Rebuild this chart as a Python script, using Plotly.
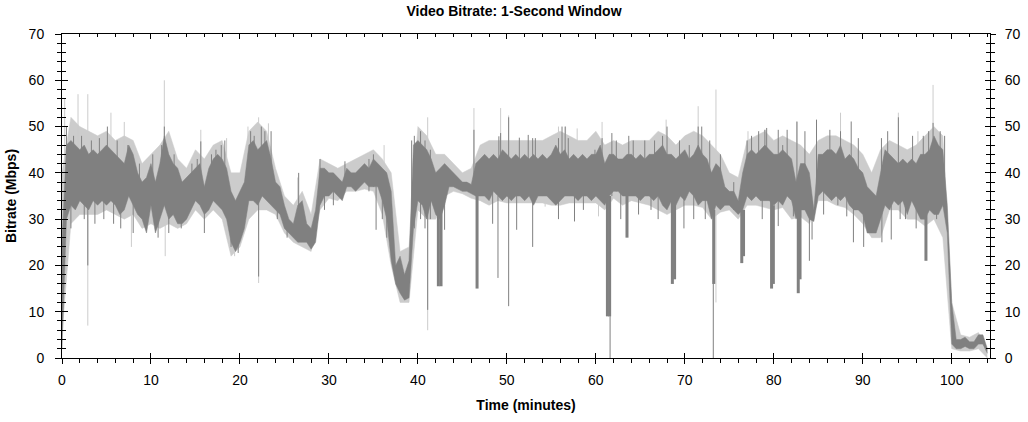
import numpy as np
import plotly.graph_objects as go

# ---------------- data ----------------
# dark (main) series envelope, sampled every 0.5 minute from 0 to 104
dark_hi = [
    25, 46, 47, 46, 45, 46, 44, 45, 44, 45,
    46, 45, 44, 43, 42, 46, 44, 40, 38, 39,
    42, 38, 42, 48, 44, 42, 41, 38, 39, 40,
    41, 42, 37, 41, 43, 44, 43, 41, 36, 34,
    36, 38, 46, 47, 45, 46, 47, 43, 38, 37,
    33, 30, 29, 33, 34, 29, 28, 32, 41, 41,
    40, 40, 39, 38, 41, 40, 40, 41, 42, 41,
    43, 42, 41, 40, 36, 20, 22, 18, 21, 46,
    47, 46, 45, 43, 40, 41, 42, 41, 40, 39,
    38, 38, 37.5, 42, 43, 44, 43, 44, 43, 45,
    44, 43, 44, 43, 44, 43, 44, 43, 44, 43,
    44, 46, 44, 45, 43, 44, 43, 44, 43, 44,
    44, 46, 42, 44, 44, 43, 43, 44, 44, 43,
    44, 43, 44, 44, 45, 46, 44, 44, 43, 44,
    45, 43, 44, 46, 44, 43, 40, 42, 41, 37,
    36, 36, 34, 40, 44, 45, 44, 45, 46, 45,
    44, 44, 45, 44, 43, 38, 42, 42, 40, 32,
    44, 44, 45, 45, 44, 46, 43, 44, 43, 41,
    40, 37, 36, 35, 40, 45, 44, 43, 42, 43,
    42, 43, 42, 44, 44, 45, 48, 46, 45, 33,
    12, 4, 4, 4.5, 3.5, 3.5, 5, 5, 2,
]
dark_lo = [
    2, 30, 33, 32, 34, 33, 32, 34, 33, 34,
    33, 34, 33, 31, 32, 35, 33, 31, 30, 27,
    33, 27, 30, 33, 30, 31, 29, 29, 30, 32,
    34, 33, 31, 32, 34, 33, 32, 30, 25, 23,
    25, 28, 34, 34, 33, 35, 34, 33, 32, 31,
    28, 27, 26, 25, 25, 25, 23.5, 25, 33, 35,
    35, 36, 35, 34, 37, 37, 36, 37, 38, 37,
    37, 37, 34, 30, 21, 16, 14, 12.5, 13, 28,
    34, 33, 30, 34, 31, 30, 33, 37, 37, 36.5,
    36, 36, 35.5, 35, 35, 35, 34, 36, 35, 34,
    35, 34, 35, 35, 34, 35, 33, 35, 35, 35,
    34, 33, 34, 35, 35, 35, 34, 35, 35, 34,
    35, 34, 33, 35, 36, 36, 35, 35, 35, 35,
    34, 35, 35, 34, 35, 33, 32, 34, 33, 35,
    34, 36, 35, 33, 34, 34, 30, 33, 32, 33,
    33, 32, 31, 32, 35, 34, 35, 34, 34, 34,
    33, 34, 33, 35, 34, 30, 32, 32, 30, 29.5,
    35, 36, 35, 34, 35, 34, 35, 33, 32, 32,
    31, 27, 27, 27, 30, 33, 32, 34, 33, 34,
    31, 34, 32, 30, 30, 32, 31, 31, 33, 27,
    3, 2, 2, 2.5, 2, 2, 3, 3, 1,
]
# light (peak) series envelope, sampled every minute from 0 to 104
light_hi = [
    40, 52, 50, 49, 48, 49, 47, 48, 47, 42,
    44, 46, 49, 43, 41, 45, 43, 46, 47, 40,
    40, 49, 51, 49, 41, 35, 33, 36, 31, 43,
    42, 41, 42, 43, 44, 45, 43, 40, 23, 24,
    50, 48, 44, 44, 42, 40, 41, 46, 47, 47,
    47, 47, 47, 47, 47, 48, 49, 48, 47, 47,
    49, 46, 47, 46, 47, 47, 47, 49, 48, 46,
    48, 49, 48, 46, 44, 40, 39, 47, 48, 49,
    47, 48, 47, 46, 44, 47, 48, 48, 47, 46,
    44, 40, 45, 47, 46, 45, 46, 48, 50, 48,
    12, 5, 4.5, 5.5, 2,
]
light_lo = [
    5, 29, 31, 31, 31, 32, 31, 30, 31, 28,
    29, 28, 29, 28, 29, 32, 30, 32, 30, 22,
    24, 30, 32, 32, 31, 27, 25, 24, 23, 32,
    34.5, 34, 36, 36, 36.5, 36, 31, 20, 12, 12,
    32, 30, 30, 35, 36, 35.5, 34.5, 34, 33, 34,
    33.5, 33.5, 33.5, 33.5, 33.5, 33, 33, 33.5, 33.5, 33.5,
    33.5, 32, 34.5, 33, 34, 33.5, 33, 32, 31, 32,
    33, 33, 32.5, 30, 31.5, 32, 30, 33, 33, 32.5,
    32, 32.5, 30, 30.5, 29, 34, 34, 33, 32.5, 31,
    29, 26, 26, 32, 32, 30, 30, 28.5, 30, 26,
    2, 1.5, 1.5, 2, 0,
]
# single-second excursions of the light series: (time, low, high)
light_spikes = [
    (0.3, 40, 56), (1.8, 40, 57), (2.9, 7, 57), (5.5, 40, 53), (7.0, 40, 51),
    (7.8, 24, 36), (11.5, 40, 60), (11.6, 22, 32), (15.6, 40, 49.3), (18.5, 38, 47.5),
    (19.4, 22, 30), (20.9, 38, 50), (22.1, 16.2, 52), (23.2, 40, 50.7), (26.5, 30, 39),
    (36.2, 38, 46), (41.1, 6, 52), (46.3, 40, 54), (49.3, 40, 54), (50.2, 40, 52.4),
    (54.3, 32.7, 36), (55.8, 40, 50), (56.6, 40, 50), (57.9, 40, 49.6), (60.3, 30.6, 36),
    (60.7, 40, 51), (67.9, 40, 51.5), (71.5, 40, 54.4), (73.5, 12, 58), (77.1, 40, 49),
    (79.0, 40, 49.3), (82.6, 40, 51), (87.5, 40, 53), (94.0, 40, 53), (96.2, 40, 49),
    (97.9, 40, 59),
]
# single-second excursions of the dark series: (time, low, high)
dark_spikes = [
    (0.5, 36, 50), (1.0, 28, 36), (1.3, 36, 48), (2.2, 36, 48), (2.5, 30, 36),
    (2.9, 20, 36), (3.3, 36, 47), (3.7, 29, 36), (4.2, 36, 47.5), (4.7, 30, 36),
    (5.1, 38, 50), (5.8, 29, 36), (6.2, 36, 47), (6.6, 28, 36), (7.4, 36, 46),
    (8.0, 27, 35), (8.7, 34, 42), (10.2, 36, 44), (10.8, 26, 33), (11.2, 36, 46),
    (11.5, 38, 50), (12.0, 27, 33), (12.6, 36, 44), (13.4, 28, 35), (14.6, 34, 42),
    (15.2, 34, 43), (15.6, 38, 46.8), (16.0, 27, 33), (16.8, 36, 44), (17.3, 36, 45),
    (17.9, 36, 46), (18.3, 36, 47), (19.0, 24, 32), (19.8, 22.7, 30), (21.2, 36, 49),
    (21.6, 36, 48), (22.1, 17.6, 36), (22.4, 36, 50), (22.8, 36, 49), (23.5, 36, 49),
    (24.2, 30, 36), (25.3, 26, 30), (26.6, 30, 40), (29.0, 36, 43), (29.5, 32, 37),
    (30.5, 33, 38), (31.8, 37, 42.5), (34.5, 36, 43), (35.0, 37, 44), (35.3, 27.7, 37),
    (36.0, 30, 38), (36.5, 26, 34), (39.3, 28, 47), (39.6, 28, 48), (40.3, 30, 49),
    (40.8, 28, 47), (41.1, 10.4, 33), (41.4, 30, 45), (43.0, 27.7, 36), (46.3, 38, 49.3),
    (48.4, 29, 36), (49.0, 17.3, 35), (49.1, 35, 47.9), (49.3, 36, 48.6), (50.2, 11.2, 52),
    (51.1, 27.7, 35), (51.4, 36, 47.6), (52.4, 36, 48.2), (52.9, 24, 47.5), (53.2, 36, 47.5),
    (55.8, 30, 47.5), (56.2, 36, 50), (56.55, 36, 50), (56.9, 36, 47.5), (57.6, 29.5, 35),
    (58.6, 32, 36), (59.9, 36, 45), (60.7, 36, 47.5), (61.6, 0, 10), (61.8, 35, 48.6),
    (62.3, 36, 47), (62.8, 30, 36), (63.7, 36, 48), (64.2, 36, 47), (64.8, 31, 36),
    (65.5, 36, 47), (66.2, 32, 36), (66.6, 36, 47), (67.0, 30, 36), (67.5, 36, 48),
    (68.0, 36, 50), (69.4, 36, 47), (69.9, 28, 36), (70.5, 36, 46), (71.0, 30, 36),
    (71.5, 36, 50), (71.9, 38, 50), (72.3, 30, 36), (72.8, 36, 47), (73.2, 0, 33),
    (74.0, 36, 44), (75.5, 32, 38), (77.0, 36, 47), (77.5, 36, 48), (78.3, 36, 49),
    (78.7, 30, 36), (79.0, 36, 49.3), (79.2, 36, 49.7), (80.5, 28.5, 49.3), (81.0, 36, 46),
    (81.5, 36, 49.3), (82.2, 30.6, 36), (82.6, 36, 51.1), (83.5, 36, 49), (84.0, 21, 30),
    (84.3, 25.6, 34), (84.8, 38, 51.5), (85.6, 31, 36), (86.3, 36, 49.3), (87.2, 33, 36),
    (87.5, 36, 49), (88.2, 30.6, 36), (88.7, 36, 51.1), (88.95, 25, 33), (89.5, 36, 47.5),
    (89.9, 31.5, 36), (90.1, 24, 31), (90.4, 29, 35), (92.1, 36, 47.5), (92.15, 25, 33),
    (92.8, 36, 49), (93.2, 25.6, 33), (94.0, 36, 52), (94.2, 30, 36), (94.8, 30, 36),
    (95.6, 36, 48), (96.0, 28, 36), (96.8, 36, 48), (97.4, 36, 49), (97.9, 38, 50.8),
    (98.3, 30, 36), (98.7, 36, 49), (99.2, 36, 48),
]
# short multi-second drops of the dark series: (time, low, high)
dark_dips = [
    (42.3, 15.5, 32), (42.6, 15.5, 32), (46.65, 15, 36), (61.3, 9, 35), (61.55, 9, 35),
    (63.5, 26, 35), (68.6, 16, 34), (68.85, 17, 34), (73.25, 16, 32), (76.4, 20.5, 32),
    (76.6, 22, 32), (79.75, 15, 34), (79.95, 16, 33), (82.75, 14, 32), (82.95, 17, 32),
    (97.1, 21, 31),
]

t_half = np.arange(len(dark_hi)) * 0.5
t_min = np.arange(len(light_hi)) * 1.0

LIGHT = "rgb(204,204,204)"
DARK = "rgb(128,128,128)"
FONT = "Arial, 'Liberation Sans', sans-serif"


def segs(rows):
    xs, ys = [], []
    for a, b, c in rows:
        xs += [a, a, None]
        ys += [b, c, None]
    return xs, ys


fig = go.Figure()
common = dict(mode="lines", hoverinfo="skip", showlegend=False)
fig.add_trace(go.Scatter(x=t_min, y=light_lo, line=dict(width=0.5, color=LIGHT), **common))
fig.add_trace(go.Scatter(x=t_min, y=light_hi, line=dict(width=0.5, color=LIGHT),
                         fill="tonexty", fillcolor=LIGHT, **common))
sx, sy = segs(light_spikes)
fig.add_trace(go.Scatter(x=sx, y=sy, line=dict(width=1, color=LIGHT), **common))
fig.add_trace(go.Scatter(x=t_half, y=dark_lo, line=dict(width=0.5, color=DARK), **common))
fig.add_trace(go.Scatter(x=t_half, y=dark_hi, line=dict(width=0.5, color=DARK),
                         fill="tonexty", fillcolor=DARK, **common))
sx, sy = segs(dark_spikes)
fig.add_trace(go.Scatter(x=sx, y=sy, line=dict(width=1, color=DARK), **common))
sx, sy = segs(dark_dips)
fig.add_trace(go.Scatter(x=sx, y=sy, line=dict(width=3, color=DARK), **common))

# dummy traces so that overlay axes are active
for xa, ya in [("x2", "y"), ("x3", "y"), ("x", "y2"), ("x", "y3"), ("x", "y4")]:
    fig.add_trace(go.Scatter(x=[None], y=[None], xaxis=xa, yaxis=ya, **common))

XR = [0, 104.3]
YR = [0, 70]
tickfont = dict(family=FONT, size=14, color="black")
base = dict(showgrid=False, zeroline=False, automargin=False, tickcolor="black",
            tick0=0, dtick=10)

fig.update_layout(
    width=1028, height=422,
    margin=dict(l=62, r=38, t=34, b=64, autoexpand=False),
    paper_bgcolor="white", plot_bgcolor="white",
    title=dict(text="<b>Video Bitrate: 1-Second Window</b>", x=0.5, xref="container",
               y=1 - 11 / 422, yref="container", yanchor="middle", xanchor="center",
               font=dict(family=FONT, size=14, color="black")),
    xaxis=dict(range=XR, ticks="outside", ticklen=5,
               showline=True, linecolor="black", linewidth=1,
               minor=dict(dtick=2, tick0=0, ticks="outside", ticklen=4, tickcolor="black"),
               tickfont=tickfont, ticklabelstandoff=4,
               title=dict(text="<b>Time (minutes)</b>", standoff=13,
                          font=dict(family=FONT, size=14, color="black")), **base),
    xaxis2=dict(range=XR, overlaying="x", side="bottom", anchor="y",
                ticks="inside", ticklen=5, showticklabels=False, showline=False, **base),
    xaxis3=dict(range=XR, overlaying="x", side="top", anchor="y",
                ticks="inside", ticklen=5, showticklabels=False,
                showline=True, linecolor="black", linewidth=1,
                minor=dict(dtick=2, tick0=0, ticks="inside", ticklen=3, tickcolor="black"),
                **base),
    yaxis=dict(range=YR, ticks="outside", ticklen=6,
               showline=True, linecolor="black", linewidth=1,
               minor=dict(dtick=2, tick0=0, ticks="outside", ticklen=4, tickcolor="black"),
               tickfont=tickfont, ticklabelstandoff=8,
               title=dict(text="<b>Bitrate (Mbps)</b>", standoff=8,
                          font=dict(family=FONT, size=14, color="black")), **base),
    yaxis2=dict(range=YR, overlaying="y", side="left", anchor="x",
                ticks="inside", ticklen=6, showticklabels=False, showline=False,
                minor=dict(dtick=2, tick0=0, ticks="inside", ticklen=4, tickcolor="black"),
                **base),
    yaxis3=dict(range=YR, overlaying="y", side="right", anchor="x",
                ticks="outside", ticklen=5, showticklabels=True,
                tickfont=tickfont, ticklabelstandoff=6,
                showline=True, linecolor="black", linewidth=1,
                minor=dict(dtick=2, tick0=0, ticks="outside", ticklen=4, tickcolor="black"),
                **base),
    yaxis4=dict(range=YR, overlaying="y", side="right", anchor="x",
                ticks="inside", ticklen=5, showticklabels=False, showline=False,
                minor=dict(dtick=2, tick0=0, ticks="inside", ticklen=4, tickcolor="black"),
                **base),
)

fig.write_html("out.html", config={"displayModeBar": False},
               post_script="document.body.style.margin='0px';")
